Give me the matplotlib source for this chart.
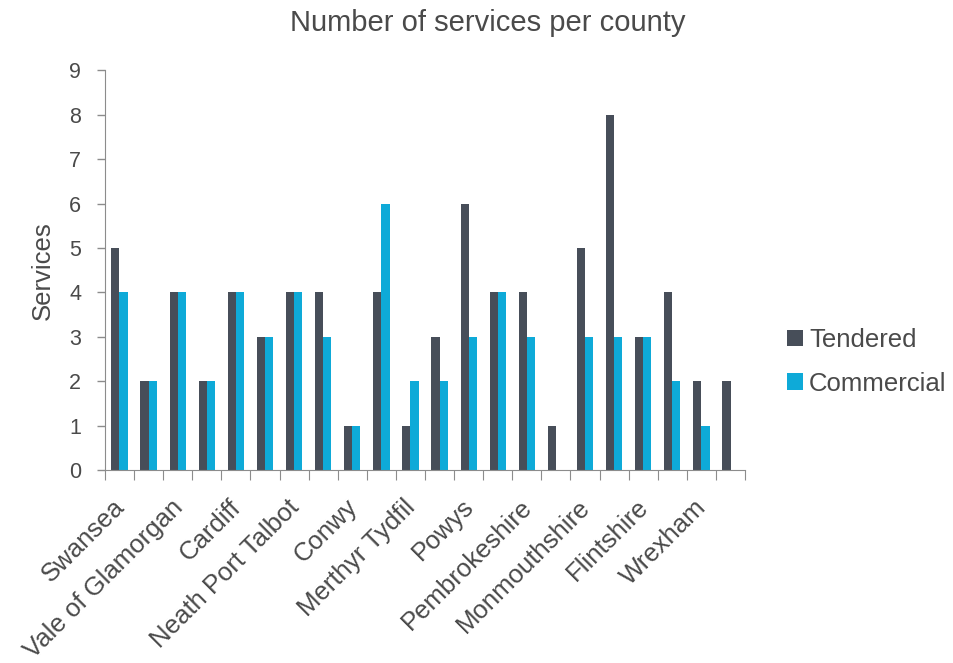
import numpy as np
import matplotlib.pyplot as plt
from matplotlib.transforms import ScaledTranslation

plt.rcParams['font.family'] = ['Liberation Sans', 'DejaVu Sans']

# every other county name is hidden in the original chart
counties = ['Swansea', '', 'Vale of Glamorgan', '', 'Cardiff', '', 'Neath Port Talbot', '',
            'Conwy', '', 'Merthyr Tydfil', '', 'Powys', '', 'Pembrokeshire', '',
            'Monmouthshire', '', 'Flintshire', '', 'Wrexham', '']
tendered = [5, 2, 4, 2, 4, 3, 4, 4, 1, 4, 1, 3, 6, 4, 4, 1, 5, 8, 3, 4, 2, 2]
commercial = [4, 2, 4, 2, 4, 3, 4, 3, 1, 6, 2, 2, 3, 4, 3, 0, 3, 3, 3, 2, 1, 0]

dark = '#474e59'
cyan = '#0eaad8'
txt = '#4a4a4a'
grey = '#8c8c8c'

fig = plt.figure(figsize=(9.54, 6.63), dpi=100)
ax = fig.add_axes([0.110, 0.291, 0.671, 0.603])

x = np.arange(len(counties))
w = 0.28
ax.bar(x - w/2, tendered, w, color=dark, label='Tendered')
ax.bar(x + w/2, commercial, w, color=cyan, label='Commercial')

ax.set_xlim(-0.5, len(counties) - 0.5)
ax.set_ylim(0, 9)
ax.set_yticks(range(10))
ax.tick_params(axis='y', labelsize=15.5, colors=grey, labelcolor=txt, length=6, width=1, pad=11)

# tick marks between groups, labels on every other group
ax.set_xticks(np.arange(len(counties) + 1) - 0.5)
ax.tick_params(axis='x', which='major', length=7, color=grey, labelbottom=False)
ax.set_xticks(x[::2], minor=True)
ax.set_xticklabels(counties[::2], minor=True, rotation=45, ha='right', rotation_mode='anchor',
                   fontsize=18.5, color=txt)
ax.tick_params(axis='x', which='minor', length=0, pad=20)
shift = ScaledTranslation(-7 / 100, 3 / 100, fig.dpi_scale_trans)
for lab in ax.get_xticklabels(minor=True):
    lab.set_transform(lab.get_transform() + shift)

for s in ['top', 'right']:
    ax.spines[s].set_visible(False)
for s in ['left', 'bottom']:
    ax.spines[s].set_color(grey)

ax.set_ylabel('Services', fontsize=18.5, color=txt, labelpad=10)
fig.text(0.511, 0.965, 'Number of services per county', fontsize=21, color=txt,
         ha='center', va='center')

fig.legend(loc='center left', bbox_to_anchor=(0.801, 0.454), frameon=False, fontsize=18.5,
           labelcolor=txt, handlelength=0.6, handleheight=0.6, handletextpad=0.25, labelspacing=0.75)

fig.savefig('out.png', dpi=100)
